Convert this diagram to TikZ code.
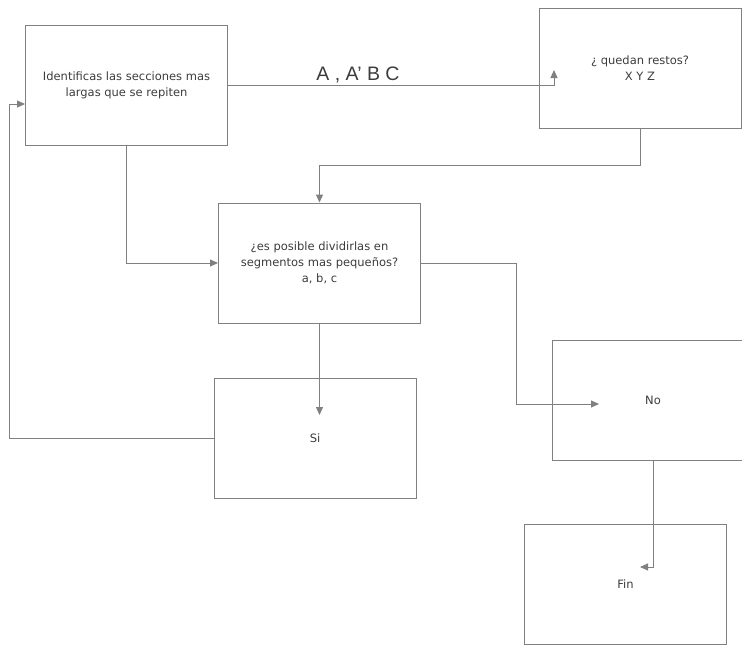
\documentclass[tikz,border=0pt]{standalone}
\usepackage{fontspec}
\setmainfont{DejaVu Sans}
\newfontfamily\labelfont{Liberation Sans}
\usetikzlibrary{arrows.meta, positioning}
\definecolor{linegray}{RGB}{128,128,128}
\definecolor{textgray}{RGB}{60,60,60}

\begin{document}
\begin{tikzpicture}[x=1pt, y=-1pt,
    box/.style={draw=linegray, line width=1pt, minimum width=202pt, minimum height=120pt,
        inner sep=0pt, align=center, text=textgray, font=\fontsize{11.5}{16}\selectfont},
    link/.style={draw=linegray, line width=1pt},
    arr/.style={link, -{Triangle[length=8pt, width=7pt]}}]
    % Picture frame
    \useasboundingbox (0,0) rectangle (742,645);

    % Steps
    \node[box] (ident) at (126.5,85.5) {Identificas las secciones mas\\largas que se repiten};
    \node[box] (restos) at (640,68) {¿ quedan restos?\\X Y Z};
    \node[box] (dividir) at (319.5,263) {¿es posible dividirlas en\\segmentos mas pequeños?\\a, b, c};
    \node[box] (si) at (315,438) {Si};
    \node[box] (no) at (653,400) {No};
    \node[box] (fin) at (625.5,584.5) {Fin};

    % Arrow ends inside the boxes
    \coordinate (restosIn) at (554,70);
    \coordinate (siIn) at (319.5,415);
    \coordinate (noIn) at (599,404);
    \coordinate (finIn) at (640,567);
    \coordinate (identIn) at (25,104);

    % Sections found
    \draw[arr] (ident.east) -| (restosIn);
    \node[text=textgray, font=\labelfont\fontsize{19.5}{21}\selectfont] (secciones) at (358,75) {A , A’ B C};

    % Remainders go to the division step
    \draw[arr] (restos.south) -- ++(0,37) -| (dividir.north);
    \draw[arr] (ident.south) |- (dividir.west);

    % Yes: back to the start
    \draw[arr] (dividir.south) -- (siIn);
    \draw[arr] (si.west) -- ++(-204,0) |- (identIn);

    % No: end
    \draw[arr] (dividir.east) -- ++(95,0) |- (noIn);
    \draw[arr] (no.south) |- (finIn);
\end{tikzpicture}
\end{document}
